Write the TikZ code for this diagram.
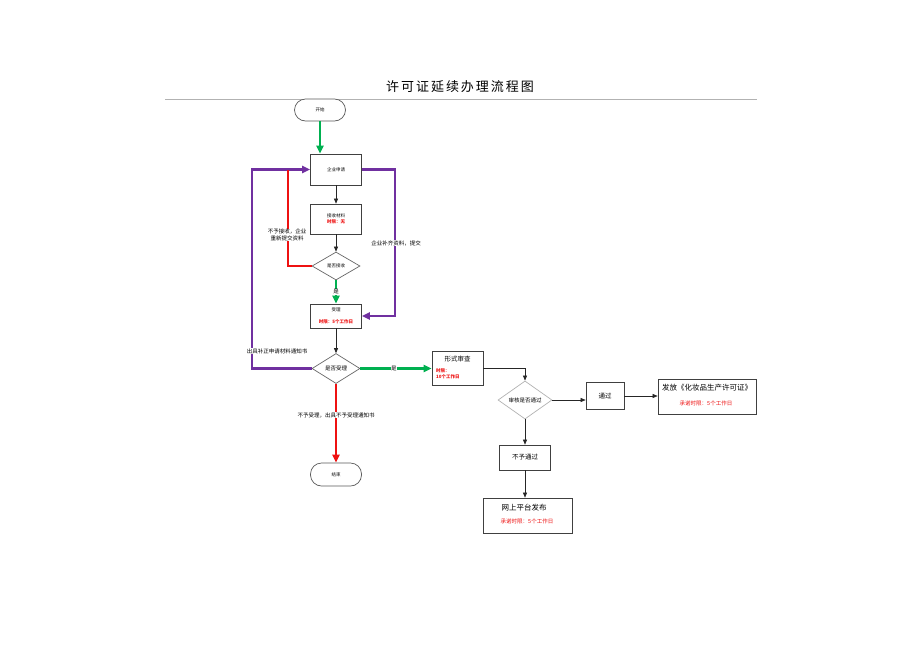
\documentclass[tikz,border=0pt]{standalone}
\usepackage{fontspec}
\setmainfont{Noto Sans CJK SC}
\usetikzlibrary{shapes.geometric,arrows.meta}
\definecolor{gline}{HTML}{00B050}
\definecolor{rline}{HTML}{EE1111}
\definecolor{pline}{HTML}{7030A0}
\definecolor{bord}{HTML}{404040}
\newcommand{\fsXS}{\fontsize{4.5}{5.5}\selectfont}
\newcommand{\fsS}{\fontsize{5.5}{6.5}\selectfont}
\newcommand{\fsM}{\fontsize{6.5}{7.5}\selectfont}
\newcommand{\fsL}{\fontsize{7.5}{9}\selectfont}
\newcommand{\redt}[1]{\textcolor{rline}{\bfseries #1}}
\begin{document}
\begin{tikzpicture}[x=1pt,y=-1pt,
  box/.style={draw=bord,line width=0.7pt,fill=white,inner sep=0pt,align=center},
  term/.style={draw=gray!70!black,line width=0.7pt,fill=white,rounded corners=11pt,inner sep=0pt,align=center},
  dia/.style={diamond,draw=gray!80!black,line width=0.7pt,fill=white,inner sep=0pt,align=center},
  lbl/.style={fill=white,text=black,inner sep=0.5pt,align=center,font=\fsS},
  arr/.style={-{Triangle[length=5pt,width=4pt]},line width=0.6pt,black!85},
  garr/.style={-{Triangle[length=8pt,width=7pt]},line width=2.2pt,gline},
  rarr/.style={-{Triangle[length=8pt,width=7pt]},line width=2.2pt,rline},
  rlin/.style={line width=2.2pt,rline},
  parr/.style={-{Triangle[length=8pt,width=7pt]},line width=2.2pt,pline}]
\useasboundingbox (0,0) rectangle (920,651);
% title
\node (title) at (460,87) {\fontsize{13}{15}\selectfont\addfontfeature{LetterSpace=15}许可证延续办理流程图};
\coordinate (hl) at (165,99);
\coordinate (hr) at (757,99);
\draw[gray!60,line width=0.8pt] (hl) -- (hr);
% nodes
\node[term,minimum width=51pt,minimum height=22pt,font=\fsXS] (start) at (320,110) {开始};
\node[box,minimum width=51pt,minimum height=31pt,font=\fsXS] (apply) at (336,169.5) {企业申请};
\node[box,minimum width=51pt,minimum height=30pt,font=\fsXS] (recv) at (336,219) {接收材料\\[1pt]\redt{时限：无}};
\node[dia,minimum width=48pt,minimum height=28pt,font=\fsXS] (d1) at (336,266) {是否接收};
\node[box,minimum width=51pt,minimum height=24pt,font=\fsXS] (accept) at (336,316) {受理\\[6pt]\redt{时限：5个工作日}};
\node[dia,minimum width=48pt,minimum height=30pt,font=\fsS] (d2) at (336,368.5) {是否受理};
\node[term,minimum width=51pt,minimum height=23pt,font=\fsXS] (end) at (336,474.5) {结束};
\node[box,minimum width=51pt,minimum height=34pt] (form) at (457.5,368.5) {};
\node[font=\fsM] (formt) at (457.5,359) {形式审查};
\node[font=\fsXS,align=left,anchor=north west,inner sep=0pt] (formr) at (436,368) {\redt{时限：}\\[1pt]\redt{10个工作日}};
\node[dia,minimum width=54pt,minimum height=34pt,font=\fsS,draw=gray!60] (d3) at (525,400) {审核是否通过};
\node[box,minimum width=38pt,minimum height=27pt,font=\fsM] (pass) at (605,396) {通过};
\node[box,minimum width=98pt,minimum height=35pt] (issue) at (707,396.5) {};
\node[font=\fsL] (issuet) at (707,387.5) {发放《化妆品生产许可证》};
\node[font=\fsS,text=rline] (issuer) at (706,403.5) {承诺时限：5个工作日};
\node[box,minimum width=51pt,minimum height=25pt,font=\fsM] (nopass) at (525,457.5) {不予通过};
\node[box,minimum width=89pt,minimum height=35pt] (web) at (527.5,515.5) {};
\node[font=\fsL] (webt) at (524,508) {网上平台发布};
\node[font=\fsS,text=rline] (webr) at (527,521) {承诺时限：5个工作日};
% coordinates for loops
\coordinate (pl) at (252,169.5);
\coordinate (rj) at (288,169.5);
\coordinate (pr) at (395,169.5);
% connectors
\draw[garr] (start) -- (start |- apply.north);
\draw[arr] (apply) -- (recv);
\draw[arr] (recv) -- (d1);
\draw[garr] (d1) -- (accept) node[lbl,midway] (yes1) {是};
\draw[parr] (d2.west) -| (pl) -- (apply.west);
\draw[rlin] (d1.west) -| (rj);
\draw[parr] (apply.east) -- (pr) |- (accept.east);
\draw[arr] (accept) -- (d2);
\draw[garr] (d2) -- (form) node[lbl,pos=0.47] (yes2) {是};
\draw[rarr] (d2) -- (end);
\draw[arr] (form.east) -| (d3.north);
\draw[arr] (d3.east) -- (d3.east -| pass.west);
\draw[arr] (pass.east) -- (pass.east -| issue.west);
\draw[arr] (d3.south) -- (d3.south |- nopass.north);
\draw[arr] (nopass.south) -- (nopass.south |- web.north);
% labels on lines
\node[lbl] (l1) at (287,235) {不予接收，企业\\重新提交资料};
\node[lbl] (l2) at (396,243) {企业补齐资料，提交};
\node[lbl] (l3) at (277,351) {出具补正申请材料通知书};
\node[lbl] (l4) at (336,415) {不予受理，出具不予受理通知书};
\end{tikzpicture}
\end{document}
